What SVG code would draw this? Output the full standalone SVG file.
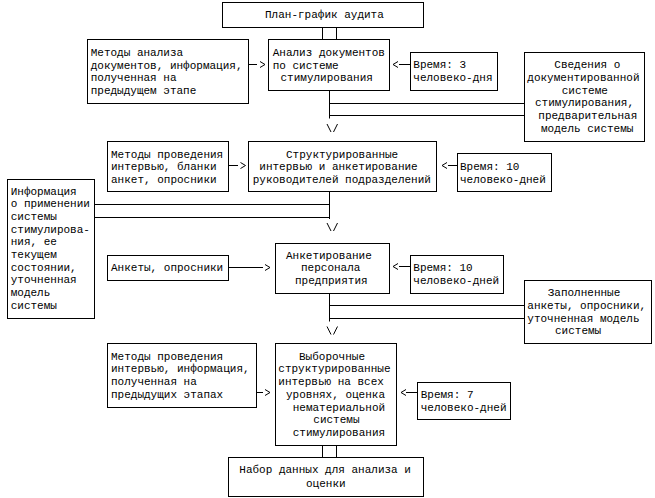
<svg xmlns="http://www.w3.org/2000/svg" xmlns:xlink="http://www.w3.org/1999/xlink" width="655" height="498" viewBox="0 0 655 498">
<style>
.box{fill:#fff;stroke:#000;stroke-width:1}
.ln{fill:none;stroke:#000;stroke-width:1}
text{font-family:"Liberation Mono","Courier New",monospace;font-size:11px;fill:#000}
</style>
<defs>
<path id="headR" class="ln" d="M-5,-3 L0,0 L-5,3"/>
<path id="headL" class="ln" d="M5,-3 L0,0 L5,3"/>
<path id="headV" class="ln" d="M-5.5,-4 L-1.5,4 M1,4 L5,-4"/>
</defs>
<rect width="655" height="498" fill="#fff"/>
<g id="connectors">
<path class="ln" d="M322.5,27 V39 M336.5,27 V39"/>
<path class="ln" d="M248,64.5 H257"/><use xlink:href="#headR" x="265" y="64.5"/>
<path class="ln" d="M399,64.5 H410"/><use xlink:href="#headL" x="393" y="64.5"/>
<path class="ln" d="M329.5,90 V118.5 M329.5,103.5 H524 M329.5,115.5 H524"/><use xlink:href="#headV" x="332.5" y="128"/>
<path class="ln" d="M228,165.5 H238"/><use xlink:href="#headR" x="245.5" y="165.5"/>
<path class="ln" d="M448,165.5 H457"/><use xlink:href="#headL" x="442" y="165.5"/>
<path class="ln" d="M329.5,191 V219 M94,204.5 H329.5 M94,217.5 H329.5"/><use xlink:href="#headV" x="332.5" y="227"/>
<path class="ln" d="M228,267.5 H263"/><use xlink:href="#headR" x="270" y="267.5"/>
<path class="ln" d="M399,266.5 H410"/><use xlink:href="#headL" x="393" y="266.5"/>
<path class="ln" d="M329.5,293 V321.5 M329.5,305.5 H524 M329.5,318.5 H524"/><use xlink:href="#headV" x="332.5" y="330.5"/>
<path class="ln" d="M256,392.5 H263"/><use xlink:href="#headR" x="270" y="392.5"/>
<path class="ln" d="M406,392.5 H417"/><use xlink:href="#headL" x="401" y="392.5"/>
<path class="ln" d="M322.5,445 V457 M336.5,445 V457"/>
</g>
<g id="n-plan">
<rect class="box" x="222.5" y="2.5" width="201" height="25"/>
<text x="265" y="18">План-график аудита</text>
</g>
<g id="n-methods1">
<rect class="box" x="87.5" y="39.5" width="161" height="64"/>
<text x="90.7" y="56">Методы анализа</text>
<text x="90.7" y="68.5">документов, информация,</text>
<text x="90.7" y="81">полученная на</text>
<text x="90.7" y="93.5">предыдущем этапе</text>
</g>
<g id="n-analysis">
<rect class="box" x="268.5" y="39.5" width="121" height="51"/>
<text x="272.7" y="56">Анализ документов</text>
<text x="272.7" y="68.5">по системе</text>
<text x="280.5" y="81">стимулирования</text>
</g>
<g id="n-time1">
<rect class="box" x="410.5" y="52.5" width="87" height="38"/>
<text x="413.3" y="68">Время: 3</text>
<text x="413.3" y="81">человеко-дня</text>
</g>
<g id="n-svedenia">
<rect class="box" x="524.5" y="52.5" width="120" height="89"/>
<text x="554.3" y="68">Сведения о</text>
<text x="527.3" y="80.8">документированной</text>
<text x="561.7" y="93.6">системе</text>
<text x="535" y="106.4">стимулирования,</text>
<text x="538.3" y="119.2">предварительная</text>
<text x="541" y="132">модель системы</text>
</g>
<g id="n-methods2">
<rect class="box" x="107.5" y="141.5" width="121" height="50"/>
<text x="111" y="157.7">Методы проведения</text>
<text x="111" y="170.2">интервью, бланки</text>
<text x="111" y="182.7">анкет, опросники</text>
</g>
<g id="n-struct">
<rect class="box" x="248.5" y="141.5" width="188" height="50"/>
<text x="286" y="157.7">Структурированные</text>
<text x="259.3" y="170.2">интервью и анкетирование</text>
<text x="252.7" y="182.7">руководителей подразделений</text>
</g>
<g id="n-time2">
<rect class="box" x="457.5" y="153.5" width="94" height="38"/>
<text x="460" y="170.2">Время: 10</text>
<text x="460" y="182.7">человеко-дней</text>
</g>
<g id="n-info">
<rect class="box" x="7.5" y="179.5" width="87" height="139"/>
<text x="10.7" y="194.5">Информация</text>
<text x="10.7" y="207.2">о применении</text>
<text x="10.7" y="219.8">системы</text>
<text x="10.7" y="232.5">стимулирова-</text>
<text x="10.7" y="245.2">ния, ее</text>
<text x="10.7" y="257.8">текущем</text>
<text x="10.7" y="270.5">состоянии,</text>
<text x="10.7" y="283.2">уточненная</text>
<text x="10.7" y="295.9">модель</text>
<text x="10.7" y="308.5">системы</text>
</g>
<g id="n-ankety">
<rect class="box" x="107.5" y="255.5" width="121" height="25"/>
<text x="111" y="270.8">Анкеты, опросники</text>
</g>
<g id="n-anketing">
<rect class="box" x="275.5" y="243.5" width="114" height="50"/>
<text x="286" y="258.5">Анкетирование</text>
<text x="301" y="271.2">персонала</text>
<text x="295" y="283.9">предприятия</text>
</g>
<g id="n-time3">
<rect class="box" x="410.5" y="255.5" width="93" height="38"/>
<text x="413.3" y="271">Время: 10</text>
<text x="413.3" y="283.8">человеко-дней</text>
</g>
<g id="n-zapoln">
<rect class="box" x="524.5" y="280.5" width="127" height="63"/>
<text x="547.7" y="296.2">Заполненные</text>
<text x="527.3" y="308.7">анкеты, опросники,</text>
<text x="527.3" y="321.5">уточненная модель</text>
<text x="555" y="334.2">системы</text>
</g>
<g id="n-methods4">
<rect class="box" x="107.5" y="343.5" width="149" height="64"/>
<text x="111" y="359.5">Методы проведения</text>
<text x="111" y="372.3">интервью, информация,</text>
<text x="111" y="385">полученная на</text>
<text x="111" y="397.7">предыдущих этапах</text>
</g>
<g id="n-vyborochnye">
<rect class="box" x="275.5" y="343.5" width="121" height="102"/>
<text x="299" y="359.5">Выборочные</text>
<text x="278.3" y="372.3">структурированные</text>
<text x="278.3" y="385">интервью на всех</text>
<text x="286" y="397.7">уровнях, оценка</text>
<text x="292.7" y="410.5">нематериальной</text>
<text x="313.3" y="423.2">системы</text>
<text x="292.7" y="435.9">стимулирования</text>
</g>
<g id="n-time4">
<rect class="box" x="417.5" y="382.5" width="93" height="37"/>
<text x="420.7" y="397.7">Время: 7</text>
<text x="420.7" y="410.5">человеко-дней</text>
</g>
<g id="n-result">
<rect class="box" x="228.5" y="457.5" width="195" height="39"/>
<text x="239.3" y="472.8">Набор данных для анализа и</text>
<text x="306" y="486.8">оценки</text>
</g>
</svg>
